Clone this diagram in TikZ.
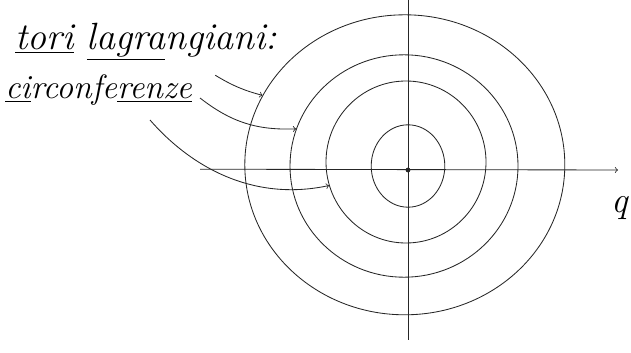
\documentclass[tikz,border=0pt]{standalone}
\usepackage{tikz}
\usetikzlibrary{shapes.geometric}
\tikzset{
    pen/.style={line width=0.6pt,black!85},
    orbit/.style={pen,draw,ellipse,inner sep=0pt},
    hand/.style={font=\fontsize{24}{24}\selectfont\itshape,inner sep=0pt,anchor=base west}
}

\begin{document}
\begin{tikzpicture}
\useasboundingbox (0,0) rectangle (15.775,8.8);

% axes
\coordinate (ptop) at (10.2,8.8);
\coordinate (pbot) at (10.2,0.3);
\coordinate (qleft) at (5.0,4.57);
\coordinate (qright) at (15.45,4.55);
\draw[pen] (ptop) -- (pbot);
\draw[pen,->] (qleft) -- (qright);
\node[font=\fontsize{26}{26}\selectfont\itshape] (qlab) at (15.5,3.6) {q};
\fill[black!85] (10.2,4.55) circle (0.06);

% level curves
\node[orbit,minimum width=8.0cm,minimum height=7.5cm] (outer) at (10.12,4.68) {};
\node[orbit,minimum width=5.7cm,minimum height=5.56cm] (second) at (10.1,4.65) {};
\node[orbit,minimum width=4.0cm,minimum height=4.05cm] (third) at (10.15,4.75) {};
\node[orbit,minimum width=1.84cm,minimum height=2.06cm] (inner) at (10.2,4.65) {};

% labels
\node[hand,font=\fontsize{27}{27}\selectfont\itshape] (tori) at (0.375,7.55)
    {\underline{tori} \underline{lagra}ngiani:};
\node[hand] (circ) at (0.125,6.33) {\underline{ci}rconfe\underline{renze}};

\coordinate (s1) at (5.38,6.92);
\coordinate (s2) at (5.0,6.35);
\coordinate (s3) at (3.75,5.8);
\draw[pen,->] (s1) to[bend right=8] (outer.154);
\draw[pen,->] (s2) to[bend right=20] (second.161);
\draw[pen,->] (s3) .. controls (4.75,4.65) and (6.3,3.75) .. (third.197);
\end{tikzpicture}
\end{document}
